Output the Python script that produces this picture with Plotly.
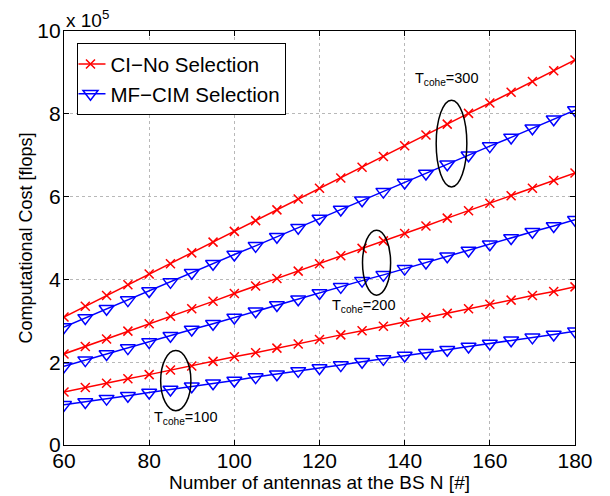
import plotly.graph_objects as go

# Number of BS antennas
antennas = list(range(60, 181, 5))

# Computational cost in units of 1e5 flops
ci_300 = [3.09, 3.35, 3.61, 3.87, 4.13, 4.38, 4.64, 4.90, 5.16, 5.42, 5.68, 5.94, 6.20,
          6.45, 6.71, 6.97, 7.23, 7.49, 7.75, 8.01, 8.26, 8.52, 8.78, 9.04, 9.30]
mf_300 = [2.85, 3.07, 3.29, 3.50, 3.72, 3.94, 4.16, 4.38, 4.60, 4.81, 5.03, 5.25, 5.47,
          5.69, 5.91, 6.12, 6.34, 6.56, 6.78, 7.00, 7.22, 7.43, 7.65, 7.87, 8.09]
ci_200 = [2.20, 2.38, 2.56, 2.75, 2.93, 3.11, 3.29, 3.47, 3.66, 3.84, 4.02, 4.20, 4.38,
          4.57, 4.75, 4.93, 5.11, 5.29, 5.48, 5.66, 5.84, 6.02, 6.20, 6.39, 6.57]
mf_200 = [1.90, 2.05, 2.20, 2.34, 2.49, 2.64, 2.79, 2.93, 3.08, 3.23, 3.38, 3.52, 3.67,
          3.82, 3.97, 4.11, 4.26, 4.41, 4.56, 4.70, 4.85, 5.00, 5.15, 5.29, 5.44]
ci_100 = [1.28, 1.39, 1.49, 1.60, 1.70, 1.81, 1.91, 2.02, 2.13, 2.23, 2.34, 2.44, 2.55,
          2.66, 2.76, 2.87, 2.97, 3.08, 3.18, 3.29, 3.40, 3.50, 3.61, 3.71, 3.82]
mf_100 = [0.97, 1.04, 1.12, 1.19, 1.27, 1.34, 1.42, 1.49, 1.56, 1.64, 1.71, 1.79, 1.86,
          1.93, 2.01, 2.08, 2.16, 2.23, 2.30, 2.38, 2.45, 2.53, 2.60, 2.67, 2.75]

x_ticks = [60, 80, 100, 120, 140, 160, 180]
y_ticks = [0, 2, 4, 6, 8, 10]

FONT = "Liberation Sans, Arial, Helvetica, sans-serif"
RED = "#ff0000"
BLUE = "#0000ff"

fig = go.Figure()

ci_series = [ci_300, ci_200, ci_100]
mf_series = [mf_300, mf_200, mf_100]

for i, ys in enumerate(ci_series):
    fig.add_trace(go.Scatter(
        x=antennas, y=ys, mode="lines+markers",
        name="CI\u2212No Selection", legendgroup="ci", showlegend=(i == 0),
        line=dict(color=RED, width=1.5),
        marker=dict(symbol="x-thin", size=9, line=dict(color=RED, width=1.5), color=RED),
    ))
for i, ys in enumerate(mf_series):
    fig.add_trace(go.Scatter(
        x=antennas, y=ys, mode="lines+markers",
        name="MF\u2212CIM Selection", legendgroup="mf", showlegend=(i == 0),
        line=dict(color=BLUE, width=1.5),
        marker=dict(symbol="triangle-down-open", size=13, color=BLUE, line=dict(color=BLUE, width=1.5)),
    ))

# Ellipses grouping the curves of each coherence time
ellipses = [
    (147.4, 154.6, 6.23, 8.33),
    (130.1, 136.7, 3.62, 5.19),
    (82.7, 89.8, 0.83, 2.28),
]
for x0, x1, y0, y1 in ellipses:
    fig.add_shape(type="circle", xref="x", yref="y", x0=x0, x1=x1, y0=y0, y1=y1,
                  line=dict(color="black", width=1.5))

labels = [
    (150.0, 8.85, "T<sub>cohe</sub>=300"),
    (130.4, 3.35, "T<sub>cohe</sub>=200"),
    (88.6, 0.65, "T<sub>cohe</sub>=100"),
]
for lx, ly, txt in labels:
    fig.add_annotation(x=lx, y=ly, xref="x", yref="y", text=txt, showarrow=False,
                       font=dict(family=FONT, size=14.5, color="black"))

fig.add_annotation(xref="paper", yref="paper", x=0, y=1, xanchor="left", yanchor="bottom",
                   text="x 10<sup>5</sup>", showarrow=False, yshift=-2,
                   font=dict(family=FONT, size=19, color="black"))

axis_common = dict(
    showline=True, linecolor="black", linewidth=1.2, mirror="ticks",
    ticks="inside", ticklen=5, tickcolor="black",
    showgrid=True, gridcolor="#b8b8b8", griddash="dot", gridwidth=1,
    zeroline=False, automargin=False,
    tickfont=dict(family=FONT, size=21, color="black"),
)

fig.update_xaxes(range=[60, 180], tickvals=x_ticks, ticktext=[str(v) for v in x_ticks],
                 ticklabelstandoff=-3,
                 title=dict(text="Number of antennas at the BS N [#]",
                            font=dict(family=FONT, size=19, color="black"), standoff=0),
                 **axis_common)
fig.update_yaxes(range=[0, 10], tickvals=y_ticks, ticktext=[str(v) for v in y_ticks],
                 ticklabelstandoff=-2,
                 title=dict(text="Computational Cost [flops]",
                            font=dict(family=FONT, size=18, color="black"), standoff=0),
                 **axis_common)

fig.update_layout(
    width=610, height=496,
    margin=dict(l=64, r=35, t=31, b=51),
    paper_bgcolor="white", plot_bgcolor="white",
    font=dict(family=FONT, color="black"),
    legend=dict(x=0.026, y=0.971, xanchor="left", yanchor="top",
                bgcolor="white", bordercolor="black", borderwidth=1.2,
                font=dict(family=FONT, size=20.5, color="black"),
                itemwidth=30, tracegroupgap=0, indentation=-8,
                entrywidth=215, entrywidthmode="pixels"),
)

fig.write_html("out.html")
